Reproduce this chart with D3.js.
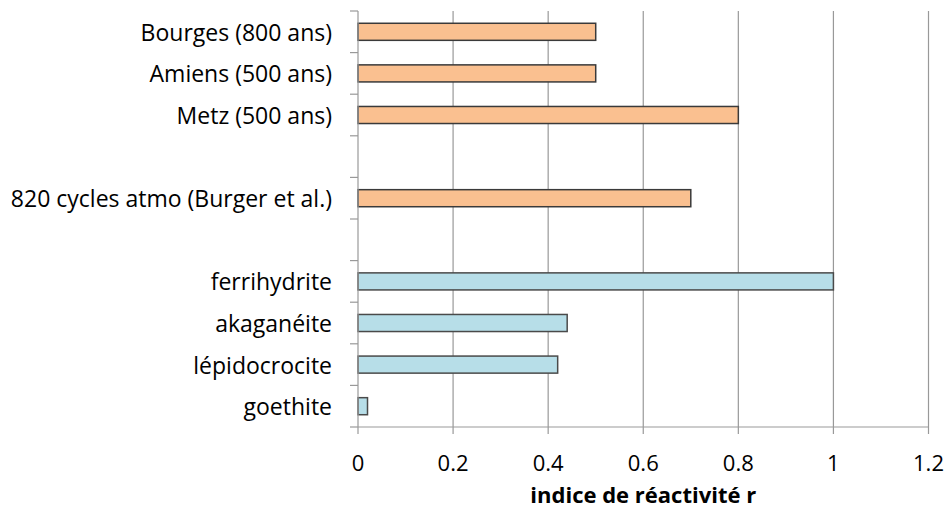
<!DOCTYPE html>
<html>
<head>
<meta charset="utf-8">
<script src="https://cdn.jsdelivr.net/npm/d3@7/dist/d3.min.js"></script>
<style>
  html, body { margin: 0; padding: 0; background: #fff; }
  svg { display: block; }
  text { font-family: "Open Sans", Lato, sans-serif; fill: #000; }
</style>
</head>
<body>
<svg id="chart" width="947" height="509"></svg>
<script>
// Categories from top to bottom; empty strings are spacer rows
const categories = [
  "Bourges (800 ans)",
  "Amiens (500 ans)",
  "Metz (500 ans)",
  "",
  "820 cycles atmo (Burger et al.)",
  " ",
  "ferrihydrite",
  "akaganéite",
  "lépidocrocite",
  "goethite"
];
const values = [0.5, 0.5, 0.8, null, 0.7, null, 1.0, 0.44, 0.42, 0.02];
const groups = ["site", "site", "site", null, "site", null, "ref", "ref", "ref", "ref"];
const xTicks = [0, 0.2, 0.4, 0.6, 0.8, 1, 1.2];
const xTitle = "indice de réactivité r";

const colors = {
  site: { fill: "#FAC090", stroke: "#3a3a3a" },
  ref:  { fill: "#B7DEE8", stroke: "#4a4a4a" }
};

const svg = d3.select("#chart");
const plotL = 358, plotR = 928.5, plotT = 11, plotB = 427;

const x = d3.scaleLinear().domain([0, 1.2]).range([plotL, plotR]);
const y = d3.scaleBand().domain(categories).range([plotT, plotB]).paddingInner(0.59).paddingOuter(0.295);

// Vertical gridlines
svg.append("g")
  .selectAll("line")
  .data(xTicks.filter(d => d > 0))
  .join("line")
  .attr("x1", d => x(d)).attr("x2", d => x(d))
  .attr("y1", plotT).attr("y2", plotB + 7)
  .attr("stroke", "#999").attr("stroke-width", 1.2);

// Bars
const rows = categories.map((c, i) => ({ c, v: values[i], g: groups[i] })).filter(d => d.v != null);
svg.append("g")
  .selectAll("rect")
  .data(rows)
  .join("rect")
  .attr("x", x(0))
  .attr("y", d => y(d.c))
  .attr("width", d => x(d.v) - x(0))
  .attr("height", y.bandwidth())
  .attr("fill", d => colors[d.g].fill)
  .attr("stroke", d => colors[d.g].stroke)
  .attr("stroke-width", 1.5);

// Y axis line and ticks between categories
const step = (plotB - plotT) / categories.length;
const yAxis = svg.append("g");
yAxis.append("line")
  .attr("x1", plotL).attr("x2", plotL)
  .attr("y1", plotT).attr("y2", plotB + 7)
  .attr("stroke", "#999").attr("stroke-width", 1.2);
yAxis.selectAll("line.tick")
  .data(d3.range(categories.length + 1))
  .join("line")
  .attr("class", "tick")
  .attr("x1", plotL - 8).attr("x2", plotL)
  .attr("y1", i => plotT + i * step).attr("y2", i => plotT + i * step)
  .attr("stroke", "#999").attr("stroke-width", 1.2);

// Category labels
svg.append("g")
  .selectAll("text")
  .data(categories.filter(c => c.trim() !== ""))
  .join("text")
  .attr("x", plotL - 26)
  .attr("y", d => y(d) + y.bandwidth() / 2)
  .attr("text-anchor", "end")
  .attr("dominant-baseline", "central")
  .attr("font-size", 23)
  .text(d => d);

// X axis line
svg.append("line")
  .attr("x1", plotL).attr("x2", plotR)
  .attr("y1", plotB).attr("y2", plotB)
  .attr("stroke", "#999").attr("stroke-width", 1.2);

// X tick labels
svg.append("g")
  .selectAll("text")
  .data(xTicks)
  .join("text")
  .attr("x", d => x(d))
  .attr("y", 462)
  .attr("text-anchor", "middle")
  .attr("dominant-baseline", "central")
  .attr("font-size", 22)
  .text(d => d3.format("")(d));

// X axis title
svg.append("text")
  .attr("x", (plotL + plotR) / 2)
  .attr("y", 494)
  .attr("text-anchor", "middle")
  .attr("dominant-baseline", "central")
  .attr("font-size", 22)
  .attr("font-weight", "bold")
  .text(xTitle);
</script>
</body>
</html>
